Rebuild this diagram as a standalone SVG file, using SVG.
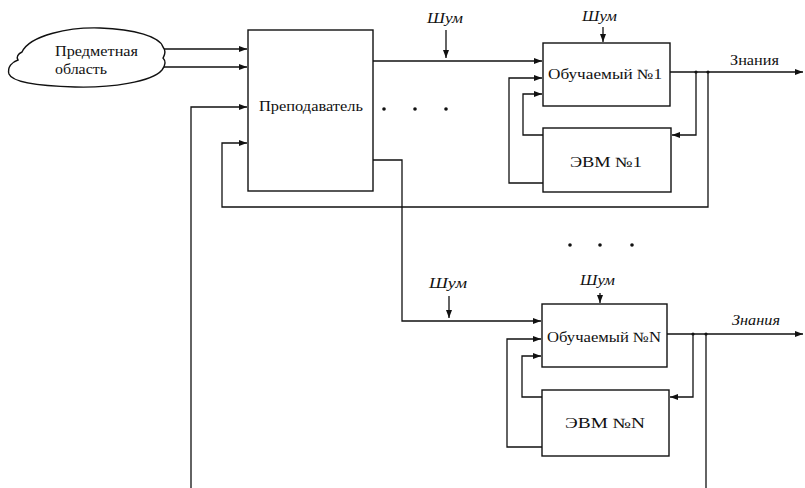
<svg xmlns="http://www.w3.org/2000/svg" width="805" height="488" viewBox="0 0 805 488">
<defs>
<marker id="ah" viewBox="0 0 8 6" refX="8" refY="3" markerWidth="8" markerHeight="6" markerUnits="userSpaceOnUse" orient="auto">
<path d="M0,0 L8,3 L0,6 Z" fill="#111"/>
</marker>
</defs>
<style>
.b{fill:#fff;stroke:#111;stroke-width:1.4}
.c{fill:none;stroke:#111;stroke-width:1.3}
.a{marker-end:url(#ah)}
.t{font-family:'Liberation Serif','DejaVu Serif',serif;font-size:14px;fill:#111}
.i{font-style:italic}
.d{fill:#111}
</style>
<rect width="805" height="488" fill="#fff"/>
<g id="connectors">
<path class="c a" d="M163,49 H247"/>
<path class="c a" d="M163,67 H247"/>
<path class="c a" d="M191,488 V107 H247"/>
<path class="c a" d="M373,61 H542"/>
<path class="c a" d="M373,160 H402 V321 H541"/>
<path class="c a" d="M446,30 V58"/>
<path class="c a" d="M603,27 V42"/>
<path class="c a" d="M670,72 H803"/>
<path class="c a" d="M696,72 V135 H672"/>
<path class="c a" d="M708,72 V207 H222 V143 H247"/>
<path class="c a" d="M543,135 H523 V94 H542"/>
<path class="c a" d="M543,183 H509 V78 H542"/>
<path class="c a" d="M449,296 V318"/>
<path class="c a" d="M600,293 V303"/>
<path class="c a" d="M667,334 H803"/>
<path class="c a" d="M693,334 V397 H670"/>
<path class="c" d="M706,334 V488"/>
<path class="c a" d="M542,397 H522 V356 H541"/>
<path class="c a" d="M542,447 H507 V339 H541"/>
<circle class="d" cx="696" cy="72" r="1.6"/>
<circle class="d" cx="708" cy="72" r="1.6"/>
<circle class="d" cx="693" cy="334" r="1.6"/>
<circle class="d" cx="706" cy="334" r="1.6"/>
</g>
<g id="domain">
<path class="b" d="M22,52 C30,35 70,27 100,28 C135,29 160,37 163,47 C167,52 164,56 163,58 C167,62 165,66 162,70 C152,82 110,88 75,87 C40,86 12,82 9,74 C7,67 12,62 18,60 C16,57 18,54 22,52 Z"/>
<text class="t" x="55" y="56" textLength="83" lengthAdjust="spacingAndGlyphs">Предметная</text>
<text class="t" x="55" y="74" textLength="52" lengthAdjust="spacingAndGlyphs">область</text>
</g>
<g id="teacher">
<rect class="b" x="248" y="30" width="125" height="161"/>
<text class="t" x="259" y="111" textLength="104" lengthAdjust="spacingAndGlyphs">Преподаватель</text>
</g>
<g id="dots1">
<circle class="d" cx="384" cy="109" r="1.8"/>
<circle class="d" cx="415" cy="109" r="1.8"/>
<circle class="d" cx="446" cy="109" r="1.8"/>
</g>
<g id="dots2">
<circle class="d" cx="570" cy="245" r="1.8"/>
<circle class="d" cx="600" cy="245" r="1.8"/>
<circle class="d" cx="632" cy="245" r="1.8"/>
</g>
<g id="learner1">
<rect class="b" x="543" y="43" width="127" height="63"/>
<text class="t" x="548" y="79" textLength="114" lengthAdjust="spacingAndGlyphs">Обучаемый №1</text>
</g>
<g id="computer1">
<rect class="b" x="543" y="128" width="128" height="64"/>
<text class="t" x="570" y="167" textLength="72" lengthAdjust="spacingAndGlyphs">ЭВМ №1</text>
</g>
<g id="learnerN">
<rect class="b" x="542" y="304" width="125" height="63"/>
<text class="t" x="547" y="342" textLength="114" lengthAdjust="spacingAndGlyphs">Обучаемый №N</text>
</g>
<g id="computerN">
<rect class="b" x="542" y="390" width="127" height="66"/>
<text class="t" x="565" y="428" textLength="80" lengthAdjust="spacingAndGlyphs">ЭВМ №N</text>
</g>
<g id="labels">
<text class="t i" x="427" y="23" textLength="36" lengthAdjust="spacingAndGlyphs">Шум</text>
<text class="t i" x="582" y="21" textLength="35" lengthAdjust="spacingAndGlyphs">Шум</text>
<text class="t" x="730" y="65" textLength="49" lengthAdjust="spacingAndGlyphs">Знания</text>
<text class="t i" x="429" y="288" textLength="38" lengthAdjust="spacingAndGlyphs">Шум</text>
<text class="t i" x="580" y="285" textLength="35" lengthAdjust="spacingAndGlyphs">Шум</text>
<text class="t i" x="732" y="325" textLength="48" lengthAdjust="spacingAndGlyphs">Знания</text>
</g>
</svg>
